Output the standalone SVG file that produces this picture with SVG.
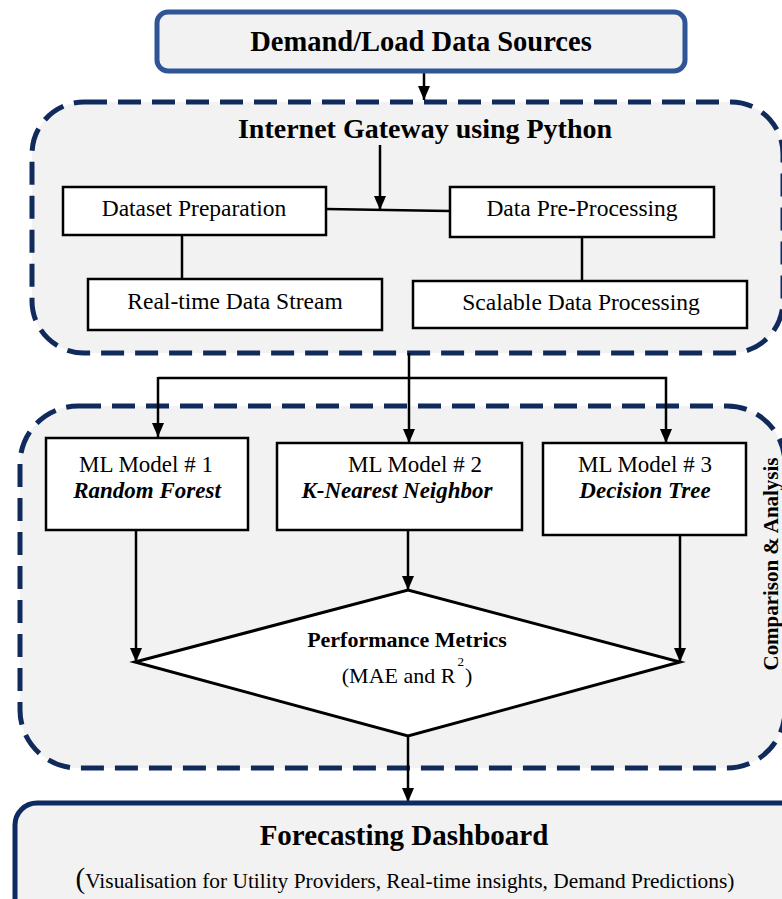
<svg xmlns="http://www.w3.org/2000/svg" width="782" height="899" viewBox="0 0 782 899">
<defs>
<style>
.region{fill:#f2f2f2;stroke:#112a5c;stroke-width:5;stroke-dasharray:23 11}
.box{fill:#ffffff;stroke:#000;stroke-width:2.5}
.ln{fill:none;stroke:#000;stroke-width:2.5}
.t{font-family:"Liberation Serif","Times New Roman",serif;fill:#000;text-anchor:middle}
.b{font-weight:bold}
.bi{font-weight:bold;font-style:italic}
</style>
<marker id="ahL" viewBox="0 0 14 12" refX="14" refY="6" markerWidth="14" markerHeight="12" markerUnits="userSpaceOnUse" orient="auto">
<path d="M0,0 L14,6 L0,12 z" fill="#000"/>
</marker>
</defs>

<g id="gateway-region">
<rect class="region" x="32" y="102" width="751" height="251" rx="52"/>
</g>
<g id="comparison-region">
<rect class="region" x="20" y="406" width="765" height="362" rx="58"/>
<text class="t b" transform="translate(778,564) rotate(-90)" font-size="21" textLength="213" lengthAdjust="spacing">Comparison &amp; Analysis</text>
</g>

<g id="connectors">
<line class="ln" x1="424" y1="72" x2="424" y2="100" marker-end="url(#ahL)"/>
<line class="ln" x1="380" y1="145" x2="380" y2="210" marker-end="url(#ahL)"/>
<polyline class="ln" points="326,209 449,211"/>
<line class="ln" x1="182" y1="235" x2="182" y2="279"/>
<line class="ln" x1="582" y1="237" x2="582" y2="281"/>
<line class="ln" x1="409" y1="353" x2="409" y2="443" marker-end="url(#ahL)"/>
<polyline class="ln" points="158,378 666,378 666,443" marker-end="url(#ahL)"/>
<line class="ln" x1="158" y1="377" x2="158" y2="437" marker-end="url(#ahL)"/>
<line class="ln" x1="136" y1="530" x2="136" y2="662" marker-end="url(#ahL)"/>
<line class="ln" x1="408" y1="530" x2="408" y2="590" marker-end="url(#ahL)"/>
<line class="ln" x1="680" y1="535" x2="680" y2="662" marker-end="url(#ahL)"/>
<line class="ln" x1="408" y1="736" x2="408" y2="802" marker-end="url(#ahL)"/>
</g>

<g id="demand-sources">
<rect x="157" y="12" width="528" height="59" rx="11" fill="#f2f2f2" stroke="#2f5597" stroke-width="5"/>
<text class="t b" x="421" y="51" font-size="28.5">Demand/Load Data Sources</text>
</g>

<g id="gateway-title">
<text class="t b" x="425" y="138" font-size="28">Internet Gateway using Python</text>
</g>

<g id="dataset-preparation">
<rect class="box" x="63" y="187" width="263" height="48"/>
<text class="t" x="194" y="216" font-size="23.5">Dataset Preparation</text>
</g>
<g id="data-preprocessing">
<rect class="box" x="450" y="187" width="264" height="50"/>
<text class="t" x="582" y="216" font-size="23.5">Data Pre-Processing</text>
</g>
<g id="realtime-stream">
<rect class="box" x="88" y="279" width="294" height="51"/>
<text class="t" x="235" y="309" font-size="23.5">Real-time Data Stream</text>
</g>
<g id="scalable-processing">
<rect class="box" x="413" y="281" width="334" height="47"/>
<text class="t" x="581" y="310" font-size="23.5">Scalable Data Processing</text>
</g>

<g id="ml-model-1">
<rect class="box" x="46" y="438" width="202" height="92"/>
<text class="t" x="146" y="472" font-size="23">ML Model # 1</text>
<text class="t bi" x="147" y="498" font-size="23">Random Forest</text>
</g>
<g id="ml-model-2">
<rect class="box" x="277" y="443" width="245" height="87"/>
<text class="t" x="415" y="472" font-size="23">ML Model # 2</text>
<text class="t bi" x="397" y="498" font-size="23">K-Nearest Neighbor</text>
</g>
<g id="ml-model-3">
<rect class="box" x="543" y="443" width="203" height="92"/>
<text class="t" x="645" y="472" font-size="23">ML Model # 3</text>
<text class="t bi" x="645" y="498" font-size="23">Decision Tree</text>
</g>

<g id="performance-metrics">
<polygon points="135,662 408,590 680,662 408,736" fill="#fff" stroke="#000" stroke-width="3"/>
<text class="t b" x="407" y="647" font-size="22">Performance Metrics</text>
<text class="t" x="407" y="683" font-size="22">(MAE and R<tspan dx="2" dy="-17" font-size="13">2</tspan><tspan dx="1" dy="17">)</tspan></text>
</g>

<g id="forecasting-dashboard">
<rect x="15" y="803" width="800" height="130" rx="22" fill="#f2f2f2" stroke="#0d2a63" stroke-width="5"/>
<text class="t b" x="404" y="845" font-size="29">Forecasting Dashboard</text>
<text class="t" x="405" y="888" font-size="21.4"><tspan font-size="29">(</tspan>Visualisation for Utility Providers, Real-time insights, Demand Predictions)</text>
</g>
</svg>
